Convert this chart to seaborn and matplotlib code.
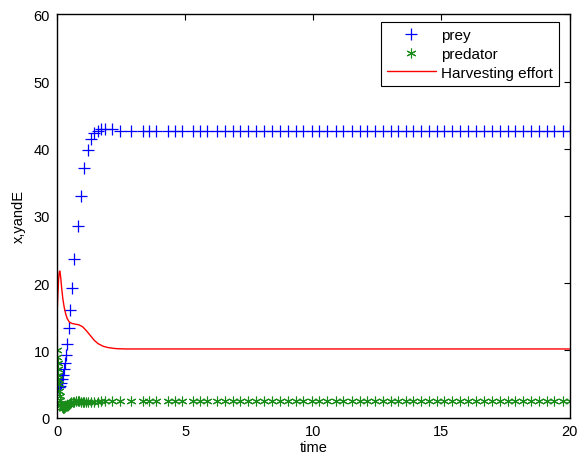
import numpy as np
import matplotlib
matplotlib.use('Agg')
import matplotlib.pyplot as plt
import seaborn as sns

# time points after the transient (shared by prey and predator)
t_late = [1.73, 1.86, 2.13, 2.45, 2.87, 3.34, 3.59, 3.88, 4.34, 4.60, 4.86, 5.31,
          5.57, 5.84, 6.23, 6.55, 6.88, 7.14, 7.46, 7.77, 8.06, 8.38, 8.70, 9.00,
          9.31, 9.61, 9.94, 10.23, 10.55, 10.88, 11.17, 11.50, 11.82, 12.11, 12.41,
          12.71, 13.02, 13.32, 13.60, 13.91, 14.19, 14.52, 14.82, 15.12, 15.43,
          15.73, 16.05, 16.36, 16.67, 16.97, 17.27, 17.58, 17.88, 18.18, 18.49,
          18.79, 19.12, 19.41, 19.74, 20.0]

# prey x(t)
t_prey_early = [0.0, 0.03, 0.06, 0.09, 0.12, 0.16, 0.20, 0.24, 0.28, 0.32, 0.36, 0.40,
                0.45, 0.52, 0.59, 0.68, 0.80, 0.93, 1.07, 1.22, 1.32, 1.45, 1.58]
prey_early = [4.8, 4.6, 4.5, 4.5, 4.7, 5.1, 5.7, 6.4, 7.2, 8.1, 9.3, 11.0,
              13.3, 16.0, 19.2, 23.6, 28.5, 33.0, 37.2, 39.8, 41.4, 42.3, 42.7]
prey_late = [42.9, 43.0, 42.9, 42.7] + [42.6] * (len(t_late) - 4)

# predator y(t)
t_pred_early = [0.0, 0.01, 0.02, 0.03, 0.04, 0.05, 0.06, 0.08, 0.10, 0.12, 0.14, 0.16,
                0.19, 0.22, 0.25, 0.28, 0.32, 0.36, 0.40, 0.45, 0.50, 0.56, 0.62, 0.68,
                0.74, 0.80, 0.87, 0.93, 1.00, 1.07, 1.15, 1.22, 1.32, 1.45, 1.58]
pred_early = [10.0, 9.0, 8.1, 7.2, 6.4, 5.7, 5.0, 4.0, 3.2, 2.6, 2.1, 1.8,
              1.5, 1.35, 1.35, 1.45, 1.6, 1.75, 1.9, 2.05, 2.15, 2.25, 2.3, 2.35,
              2.4, 2.4, 2.4, 2.35, 2.3, 2.3, 2.25, 2.25, 2.25, 2.3, 2.35]
pred_late = [2.4] * len(t_late)

# harvesting effort E(t)
t_effort = [0.0, 0.03, 0.06, 0.09, 0.11, 0.14, 0.18, 0.23, 0.28, 0.34, 0.40, 0.48,
            0.58, 0.70, 0.85, 1.0, 1.15, 1.3, 1.45, 1.6, 1.8, 2.0, 2.3, 2.7, 3.5, 20.0]
effort = [15.1, 18.0, 20.5, 21.7, 21.8, 21.0, 19.3, 17.6, 16.4, 15.4, 14.7, 14.2,
          14.0, 13.9, 13.8, 13.5, 12.9, 12.2, 11.5, 11.0, 10.6, 10.4, 10.25, 10.2, 10.2, 10.2]

sns.set_style('white')
plt.rcParams['font.family'] = ['Liberation Sans', 'DejaVu Sans']
plt.rcParams['text.color'] = 'black'
plt.rcParams['axes.labelcolor'] = 'black'
plt.rcParams['xtick.color'] = 'black'
plt.rcParams['ytick.color'] = 'black'

fig = plt.figure(figsize=(5.86, 4.6), dpi=100)
ax = fig.add_axes([0.0973, 0.0902, 0.8746, 0.8765])

sns.lineplot(x=t_prey_early + t_late, y=prey_early + prey_late, ax=ax,
             color='#0000ff', marker='+', linestyle='', markersize=8,
             markeredgewidth=0.9, markeredgecolor='#0000ff', label='prey')
sns.lineplot(x=t_pred_early + t_late, y=pred_early + pred_late, ax=ax,
             color='#008000', marker=(6, 2, 0), linestyle='', markersize=7,
             markeredgewidth=0.8, markeredgecolor='#1a8c1a', label='predator')
sns.lineplot(x=t_effort, y=effort, ax=ax, color='#ff0000', linewidth=1.0,
             label='Harvesting effort')

ax.set_xlim(0, 20)
ax.set_ylim(0, 60)
ax.set_xticks([0, 5, 10, 15, 20])
ax.set_yticks([0, 10, 20, 30, 40, 50, 60])
ax.tick_params(direction='in', top=True, right=True, length=4, width=0.8,
               labelsize=10.5, color='black', labelcolor='black', pad=5)
for s in ax.spines.values():
    s.set_color('black')
    s.set_linewidth(1.0)
ax.set_xlabel('time', fontsize=10.5, labelpad=1, color='black')
ax.set_ylabel('x,yandE', fontsize=10.5, labelpad=6, color='black')

leg = ax.legend(loc='upper right', bbox_to_anchor=(0.9795, 0.98),
                handlelength=3.2, handletextpad=0.35,
                borderaxespad=0, borderpad=0.4, labelspacing=0.3,
                fancybox=False, framealpha=1, fontsize=11)
leg.get_frame().set_edgecolor('black')
leg.get_frame().set_linewidth(0.8)
for txt in leg.get_texts():
    txt.set_color('black')

fig.savefig('out.png', dpi=100)
